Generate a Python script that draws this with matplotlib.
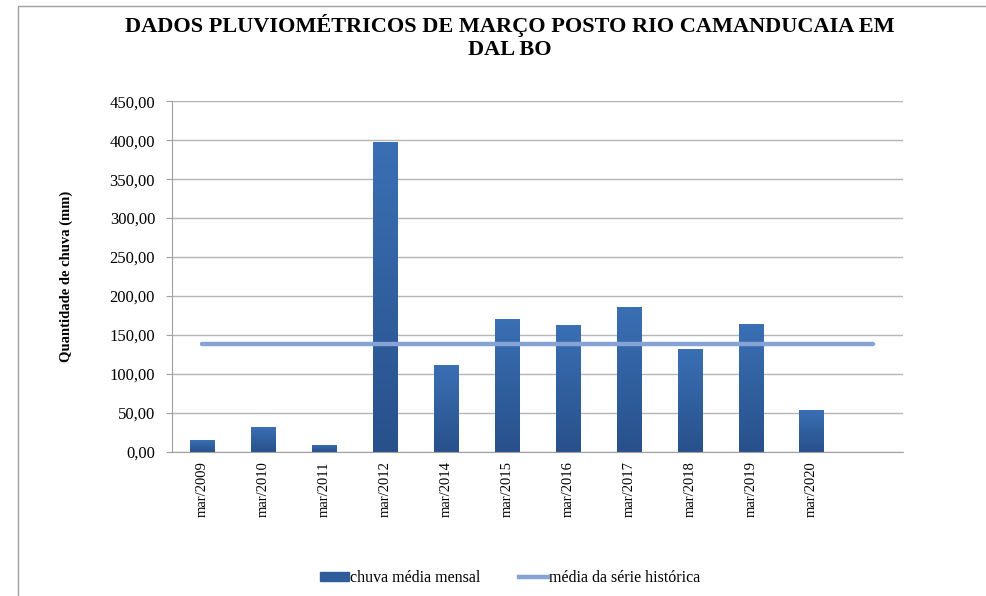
import numpy as np
import matplotlib
matplotlib.use('Agg')
from matplotlib import pyplot as plt
from matplotlib.patches import Rectangle
from matplotlib.lines import Line2D
from matplotlib.ticker import FuncFormatter

plt.rcParams['font.family'] = ['Liberation Serif', 'DejaVu Serif']

categorias = ['mar/2009', 'mar/2010', 'mar/2011', 'mar/2012', 'mar/2014', 'mar/2015',
              'mar/2016', 'mar/2017', 'mar/2018', 'mar/2019', 'mar/2020', '']
chuva = [14.5, 31.5, 9.0, 398.0, 111.5, 170.5, 163.0, 186.0, 132.0, 164.0, 54.0, np.nan]
media_serie = [138.0] * 12

fig = plt.figure(figsize=(9.87, 5.96), dpi=100)
ax = fig.add_axes([0.174, 0.242, 0.741, 0.588])

x = np.arange(len(categorias))
bars = ax.bar(x, np.nan_to_num(chuva), width=0.4, color='#2f5d99', zorder=2)

# vertical gradient like the Excel fill (lighter at top)
grad = np.linspace(0, 1, 100).reshape(-1, 1)
cmap = matplotlib.colors.LinearSegmentedColormap.from_list('g', ['#3a6fb4', '#28518b'])
for b in bars:
    h = b.get_height()
    if h <= 0:
        continue
    im = ax.imshow(grad, extent=(b.get_x(), b.get_x() + b.get_width(), 0, h),
                   aspect='auto', cmap=cmap, zorder=2.5)
    im.set_clip_path(b)

ax.plot(x, media_serie, color='#86a3d6', lw=3.2, solid_capstyle='round', zorder=3)

ax.set_xlim(-0.5, len(categorias) - 0.5)
ax.set_ylim(0, 450)
ax.set_yticks(np.arange(0, 451, 50))
ax.yaxis.set_major_formatter(FuncFormatter(lambda v, p: f'{v:.2f}'.replace('.', ',')))
ax.set_xticks(x)
ax.set_xticklabels(categorias, rotation=90, fontsize=10.5)
ax.tick_params(axis='y', labelsize=12, length=4, color='#a0a0a0', pad=8)
ax.tick_params(axis='x', length=0, pad=7)
ax.grid(axis='y', color='#b5b5b5', lw=1, zorder=0)
for s in ['top', 'right']:
    ax.spines[s].set_visible(False)
for s in ['left', 'bottom']:
    ax.spines[s].set_color('#a0a0a0')
ax.set_ylabel('Quantidade de chuva (mm)', fontsize=10.5, fontweight='bold', labelpad=26)

fig.text(0.517, 0.938, 'DADOS PLUVIOMÉTRICOS DE MARÇO POSTO RIO CAMANDUCAIA EM\nDAL BO',
         ha='center', va='center', fontsize=16, fontweight='bold', linespacing=1.2,
         family='Liberation Serif')

handles = [Rectangle((0, 0), 1, 1, color='#2f5d99'),
           Line2D([], [], color='#86a3d6', lw=3.2)]
fig.legend(handles, ['chuva média mensal', 'média da série histórica'], loc='center',
           bbox_to_anchor=(0.517, 0.03), ncol=2, frameon=False, fontsize=11.5,
           handlelength=1.8, handleheight=0.5, handletextpad=0.1, columnspacing=2.4)

fig.patches.append(Rectangle((0.018, -0.01), 0.99, 1.0, transform=fig.transFigure,
                             fill=False, ec='#a0a0a0', lw=1))

fig.savefig('out.png', dpi=100)
